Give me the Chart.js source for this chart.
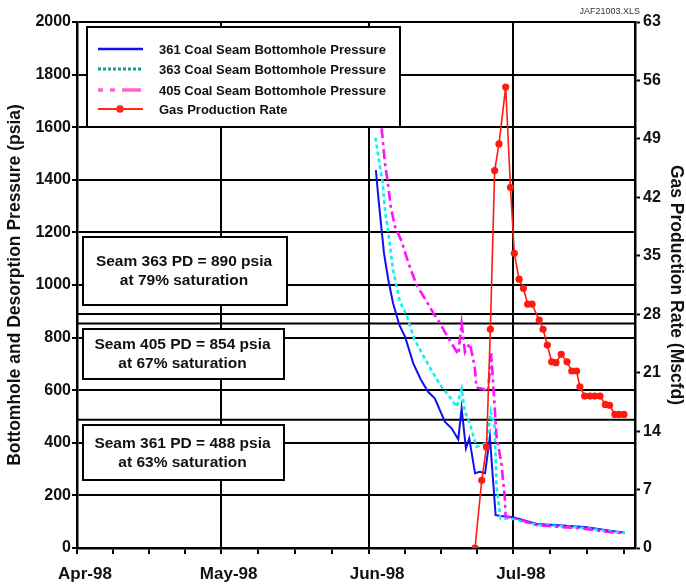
<!DOCTYPE html>
<html><head><meta charset="utf-8">
<style>html,body{margin:0;padding:0;background:#fff;}#wrap{width:686px;height:585px;position:relative;}</style>
<script src="https://cdn.jsdelivr.net/npm/chart.js@4.4.1/dist/chart.umd.min.js"></script>
</head><body><div id="wrap"><canvas id="c" width="686" height="585"></canvas></div>
<script>
const FONT = "'Liberation Sans', Arial, sans-serif";

// x values are days since 1-Apr-98
const monthTickDays = [0, 30, 61, 91];
const monthTickLabels = ['Apr-98', 'May-98', 'Jun-98', 'Jul-98'];
const xMaxDay = 116.5;

// 361 Coal Seam Bottomhole Pressure (psia)
const seam361Days = [62.4, 62.9, 63.6, 64.1, 65.0, 66.0, 67.3, 68.5, 70.2, 71.8, 73.3, 74.7, 76.8, 78.2, 79.6, 80.3, 81.2, 81.9, 83.1, 84.1, 85.2, 86.2, 87.4, 88.6, 91.1, 96.0, 102.2, 106.4, 110.6, 114.4];
const seam361Psia = [1437, 1336, 1209, 1120, 1019, 930, 848, 803, 702, 640, 594, 569, 480, 455, 413, 531, 379, 417, 284, 290, 284, 423, 125, 122, 117, 91, 85, 79, 68, 58];

// 363 Coal Seam Bottomhole Pressure (psia)
const seam363Days = [62.3, 63.2, 63.8, 64.3, 65.0, 66.0, 67.4, 68.8, 70.4, 72.6, 74.5, 76.1, 77.5, 79.3, 80.3, 81.0, 82.0, 83.4, 84.4, 85.5, 86.4, 87.2, 87.6, 88.4, 91.1, 96.0, 102.0, 106.4, 110.6, 114.4];
const seam363Psia = [1560, 1456, 1393, 1285, 1197, 1057, 937, 886, 795, 721, 660, 613, 582, 537, 605, 518, 474, 385, 390, 400, 518, 461, 233, 113, 110, 88, 82, 75, 65, 57];

// 405 Coal Seam Bottomhole Pressure (psia)
const seam405Days = [63.6, 64.3, 65.0, 65.5, 66.4, 67.8, 69.2, 70.9, 73.0, 74.5, 75.8, 77.0, 78.2, 79.6, 80.3, 81.0, 82.0, 82.7, 83.1, 83.4, 84.8, 85.8, 86.5, 86.9, 87.6, 88.6, 89.3, 89.5, 91.1, 96.0, 100.1, 105.0, 110.6, 114.4];
const seam405Psia = [1596, 1463, 1374, 1298, 1222, 1165, 1083, 1000, 937, 890, 854, 815, 778, 737, 854, 745, 778, 721, 677, 610, 605, 594, 740, 620, 423, 322, 195, 119, 115, 87, 81, 75, 62, 56];

// Gas Production Rate (Mscfd)
const gasDays = [83.1, 84.5, 85.5, 86.3, 87.2, 88.1, 89.5, 90.5, 91.3, 92.3, 93.2, 94.1, 95.0, 96.5, 97.3, 98.2, 99.1, 100.0, 101.1, 102.3, 103.3, 104.3, 105.0, 106.0, 107.1, 108.1, 109.2, 110.3, 111.2, 112.3, 113.2, 114.2];
const gasRate = [0, 8.1, 12.1, 26.2, 45.2, 48.4, 55.2, 43.2, 35.3, 32.2, 31.1, 29.2, 29.2, 27.3, 26.2, 24.3, 22.3, 22.2, 23.2, 22.3, 21.2, 21.2, 19.3, 18.2, 18.2, 18.2, 18.2, 17.2, 17.1, 16.0, 16.0, 16.0];

// Desorption pressures (psia) and saturations
const pdSeams = ['363', '405', '361'];
const pdPsia = [890, 854, 488];
const pdSaturation = [79, 67, 63];

const seriesNames = ['361 Coal Seam Bottomhole Pressure', '363 Coal Seam Bottomhole Pressure', '405 Coal Seam Bottomhole Pressure', 'Gas Production Rate'];

const pts = (xs, ys) => xs.map((x, i) => ({x: x, y: ys[i]}));

// minor ticks at quarter months
const allXTicks = [];
for (let i = 0; i < monthTickDays.length; i++) {
  const a = monthTickDays[i];
  const b = i + 1 < monthTickDays.length ? monthTickDays[i + 1] : monthTickDays[i] + 31;
  for (let q = 0; q < 4; q++) { const v = a + (b - a) * q / 4; if (v <= xMaxDay) allXTicks.push(v); }
}

const datasets = [
  {label: seriesNames[3], data: pts(gasDays, gasRate), yAxisID: 'y2', borderColor: '#ff1a10', backgroundColor: '#ff1a10', borderWidth: 1.6, pointRadius: 3.6, pointHoverRadius: 3.6, pointBorderWidth: 0, order: 0},
  {label: seriesNames[2], data: pts(seam405Days, seam405Psia), yAxisID: 'y', borderColor: '#ff10ff', borderWidth: 2.6, borderDash: [10, 4, 3, 4], pointRadius: 0, order: 1},
  {label: seriesNames[1], data: pts(seam363Days, seam363Psia), yAxisID: 'y', borderColor: '#10f0f0', borderWidth: 2.6, borderDash: [4, 3], pointRadius: 0, order: 2},
  {label: seriesNames[0], data: pts(seam361Days, seam361Psia), yAxisID: 'y', borderColor: '#1010f0', borderWidth: 2, pointRadius: 0, order: 3},
];
pdPsia.forEach((p, i) => datasets.push({label: 'PD ' + pdSeams[i], data: [{x: 0, y: p}, {x: xMaxDay, y: p}], yAxisID: 'y', borderColor: '#000', borderWidth: 2, pointRadius: 0, order: 4}));

function drawBox(ctx, x, y, w, h) {
  ctx.fillStyle = '#fff';
  ctx.fillRect(x, y, w, h);
  ctx.strokeStyle = '#000';
  ctx.lineWidth = 2;
  ctx.strokeRect(x, y, w, h);
}

const overlay = {
  id: 'overlay',
  afterDatasetsDraw(chart) {
    const ctx = chart.ctx, a = chart.chartArea;
    ctx.save();
    // legend
    const lx = a.left + 10, ly = a.top + 5;
    drawBox(ctx, lx, ly, 313, 100);
    const rows = [ly + 22, ly + 42, ly + 63, ly + 82];
    const legColors = ['#1010f0', '#14a08c', '#ff66cc', '#ff2a10'];
    const legDash = [[], [3, 2], [5, 7, 5, 7, 14, 0], []];
    const legWidth = [2.5, 3, 3.5, 2];
    for (let i = 0; i < 4; i++) {
      ctx.beginPath();
      ctx.setLineDash(legDash[i]);
      ctx.strokeStyle = legColors[i];
      ctx.lineWidth = legWidth[i];
      ctx.moveTo(lx + 11, rows[i]); ctx.lineTo(lx + 56, rows[i]);
      ctx.stroke();
      ctx.setLineDash([]);
      if (i === 3) { ctx.fillStyle = legColors[i]; ctx.beginPath(); ctx.arc(lx + 33, rows[i], 3.8, 0, Math.PI * 2); ctx.fill(); }
      ctx.fillStyle = '#111';
      ctx.font = 'bold 13px ' + FONT;
      ctx.textAlign = 'left'; ctx.textBaseline = 'middle';
      ctx.fillText(seriesNames[i], lx + 72, rows[i] + 1);
    }
    // PD boxes
    const boxes = [[a.left + 6, 237, 204, 68], [a.left + 6, 329, 201, 50], [a.left + 6, 425, 201, 55]];
    ctx.font = 'bold 15.5px ' + FONT;
    ctx.textAlign = 'center'; ctx.textBaseline = 'middle';
    boxes.forEach((b, i) => {
      drawBox(ctx, b[0], b[1], b[2], b[3]);
      ctx.fillStyle = '#111';
      const cx = b[0] + b[2] / 2 - 1, cy = b[1] + b[3] / 2;
      ctx.fillText('Seam ' + pdSeams[i] + ' PD = ' + pdPsia[i] + ' psia', cx, cy - 9);
      ctx.fillText('at ' + pdSaturation[i] + '% saturation', cx, cy + 10);
    });
    // file tag
    ctx.font = '9px ' + FONT;
    ctx.fillStyle = '#333';
    ctx.textAlign = 'right'; ctx.textBaseline = 'alphabetic';
    ctx.fillText('JAF21003.XLS', a.right + 5, 14);
    ctx.restore();
  }
};

new Chart(document.getElementById('c'), {
  type: 'line',
  data: {datasets: datasets},
  options: {
    responsive: false,
    animation: false,
    devicePixelRatio: 1,
    layout: {padding: {top: 22, left: 0, right: 0, bottom: 0}},
    plugins: {legend: {display: false}, tooltip: {enabled: false}},
    elements: {line: {tension: 0}},
    scales: {
      x: {
        type: 'linear', min: 0, max: xMaxDay,
        afterBuildTicks: (s) => { s.ticks = allXTicks.map(v => ({value: v})); },
        afterFit: (s) => { s.height = 37; },
        ticks: {
          autoSkip: false, maxRotation: 0, padding: 10, labelOffset: 8,
          color: '#111', font: {family: FONT, size: 17, weight: 'bold'},
          callback: (v) => { const i = monthTickDays.indexOf(v); return i >= 0 ? monthTickLabels[i] : ''; }
        },
        grid: {
          color: (c) => (c.tick && monthTickDays.includes(c.tick.value)) ? '#000' : 'rgba(0,0,0,0)',
          lineWidth: 2, tickColor: '#000', tickLength: 6, tickWidth: 2
        },
        border: {color: '#000', width: 2.5}
      },
      y: {
        position: 'left', min: 0, max: 2000,
        afterFit: (s) => { s.width = 77; },
        ticks: {stepSize: 200, padding: 1, color: '#111', font: {family: FONT, size: 16, weight: 'bold'}, callback: (v) => String(v)},
        grid: {color: '#000', lineWidth: 2, tickLength: 5, tickWidth: 2},
        border: {color: '#000', width: 2.5},
        title: {display: true, text: 'Bottomhole and Desorption Pressure (psia)', color: '#111', padding: {top: 5, bottom: 0}, font: {family: FONT, size: 17.5, weight: 'bold'}}
      },
      y2: {
        position: 'right', min: 0, max: 63,
        afterFit: (s) => { s.width = 51; },
        ticks: {stepSize: 7, padding: 3, color: '#111', font: {family: FONT, size: 16, weight: 'bold'}, callback: (v) => String(v)},
        grid: {drawOnChartArea: false, color: '#000', tickLength: 5, tickWidth: 2},
        border: {color: '#000', width: 2.5},
        title: {display: true, text: 'Gas Production Rate (Mscfd)', color: '#111', padding: {top: 0, bottom: 0}, font: {family: FONT, size: 17.5, weight: 'bold'}}
      }
    }
  },
  plugins: [overlay]
});
</script></body></html>
